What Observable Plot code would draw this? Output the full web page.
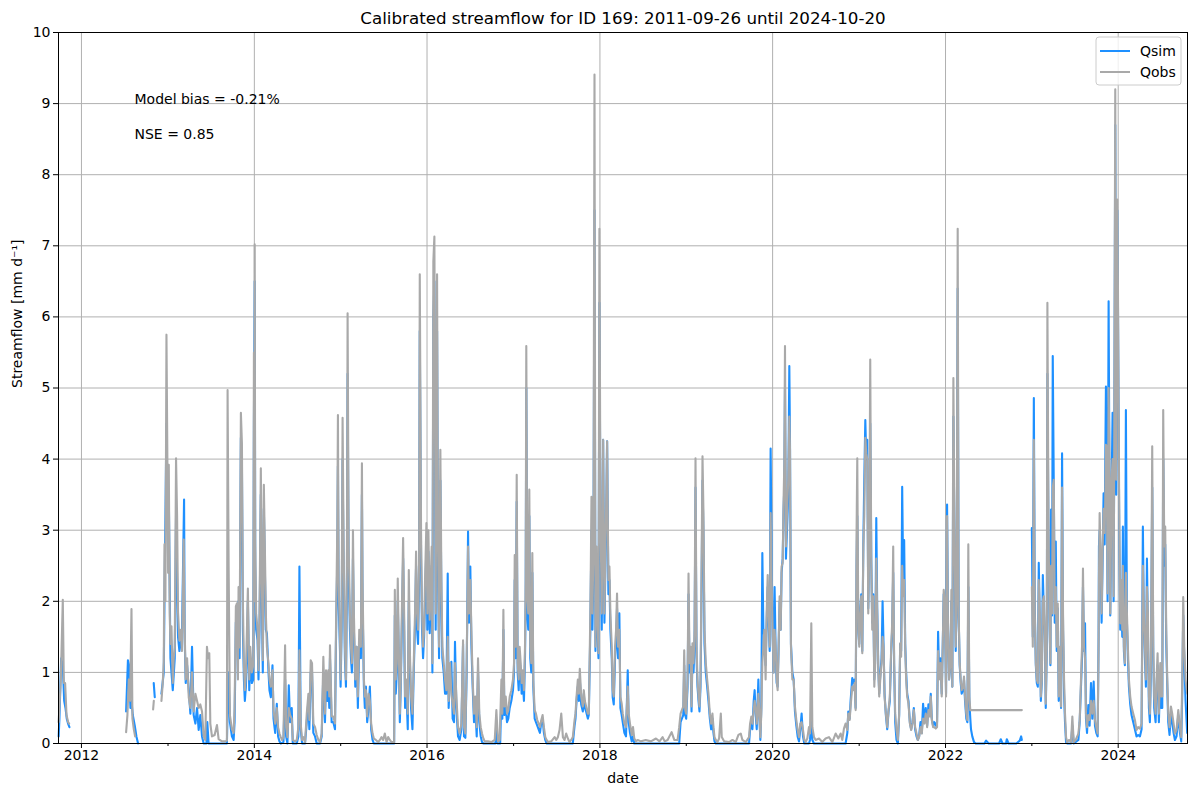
<!DOCTYPE html>
<html>
<head>
<meta charset="utf-8">
<script src="https://cdn.jsdelivr.net/npm/d3@7"></script>
<script src="https://cdn.jsdelivr.net/npm/@observablehq/plot@0.6"></script>
<style>
  body { margin: 0; background: #fff; }
  #chart svg { display: block; }
</style>
</head>
<body>
<div id="chart"></div>
<script>
// Daily streamflow, ID 169, sampled as [decimal year, mm/d]; null marks a gap in the record.
const qobsPoints = [
  [2011.736,0.3],[2011.761,0.9],[2011.784,2.02],[2011.796,0.85],[2011.811,0.85],[2011.827,0.4],[2011.846,0.3],[2011.857,0.28],[2011.86,null],
  [2012.516,0.16],[2012.531,0.4],[2012.547,0.9],[2012.562,0.6],[2012.578,1.89],[2012.589,0.35],[2012.605,0.2],[2012.62,0.1],[2012.63,null],
  [2012.828,0.48],[2012.836,0.6],[2012.84,null],
  [2012.924,0.6],[2012.939,0.85],[2012.951,1.15],[2012.959,2.8],[2012.970,2.0],[2012.982,5.75],[2012.993,3.9],[2013.001,2.4],[2013.009,3.92],[2013.020,1.8],
  [2013.028,1.4],[2013.040,1.65],[2013.055,0.85],[2013.066,1.2],[2013.078,1.35],[2013.093,4.01],[2013.105,3.2],[2013.116,1.85],[2013.132,1.45],[2013.147,1.6],
  [2013.162,1.3],[2013.182,2.87],[2013.193,1.6],[2013.205,0.9],[2013.221,1.2],[2013.240,0.65],[2013.259,0.5],[2013.278,1.0],[2013.297,0.45],[2013.317,0.7],
  [2013.336,0.6],[2013.355,0.5],[2013.374,0.55],[2013.394,0.45],[2013.413,0.1],[2013.432,0.05],[2013.451,1.36],[2013.463,1.2],[2013.478,1.27],[2013.490,0.28],
  [2013.509,0.1],[2013.540,0.12],[2013.567,0.26],[2013.586,0.06],[2013.625,0.03],[2013.663,0.03],[2013.682,0.04],[2013.690,4.97],[2013.702,2.5],[2013.717,0.4],
  [2013.740,0.2],[2013.760,0.15],[2013.771,0.5],[2013.786,1.93],[2013.798,1.97],[2013.810,0.9],[2013.817,2.2],[2013.829,1.35],[2013.844,4.65],[2013.856,4.22],
  [2013.867,2.0],[2013.879,1.1],[2013.890,0.75],[2013.902,0.98],[2013.914,1.6],[2013.925,2.18],[2013.941,0.9],[2013.952,1.36],[2013.971,1.0],[2013.987,1.1],
  [2013.995,5.5],[2013.999,2.0],[2014.004,7.02],[2014.010,2.86],[2014.021,1.83],[2014.037,1.6],[2014.048,1.03],[2014.060,1.83],[2014.075,3.87],[2014.087,2.3],
  [2014.098,1.17],[2014.110,3.64],[2014.121,2.82],[2014.133,1.83],[2014.145,1.36],[2014.164,1.12],[2014.175,0.9],[2014.191,0.8],[2014.210,1.03],[2014.222,0.47],
  [2014.241,0.28],[2014.260,0.5],[2014.275,0.23],[2014.291,0.14],[2014.306,0.09],[2014.322,0.05],[2014.337,0.09],[2014.356,1.38],[2014.368,0.23],[2014.383,0.09],
  [2014.399,0.5],[2014.414,0.4],[2014.433,0.35],[2014.445,0.05],[2014.472,0.03],[2014.491,0.05],[2014.510,0.23],[2014.522,1.31],[2014.537,0.28],[2014.553,0.05],
  [2014.568,0.09],[2014.587,0.02],[2014.607,0.42],[2014.626,0.7],[2014.637,0.33],[2014.653,1.17],[2014.668,1.13],[2014.683,0.28],[2014.703,0.23],[2014.722,0.12],
  [2014.741,0.05],[2014.761,0.02],[2014.780,0.14],[2014.799,1.22],[2014.818,0.42],[2014.830,1.03],[2014.845,0.75],[2014.857,1.03],[2014.868,0.66],[2014.876,1.38],
  [2014.895,0.38],[2014.915,0.38],[2014.934,0.28],[2014.945,1.55],[2014.961,3.07],[2014.968,4.62],[2014.976,2.3],[2014.992,1.46],[2014.999,0.9],[2015.011,1.83],
  [2015.022,4.58],[2015.034,2.77],[2015.049,1.36],[2015.061,0.9],[2015.072,2.44],[2015.080,6.05],[2015.092,2.77],[2015.107,1.83],[2015.119,1.36],[2015.130,1.13],
  [2015.142,3.0],[2015.153,1.83],[2015.169,0.9],[2015.184,1.36],[2015.199,0.66],[2015.215,1.6],[2015.234,1.36],[2015.246,3.94],[2015.253,2.3],[2015.269,0.9],
  [2015.280,0.66],[2015.292,0.75],[2015.307,0.38],[2015.323,0.7],[2015.338,0.6],[2015.353,0.28],[2015.369,0.14],[2015.384,0.07],[2015.407,0.05],[2015.434,0.02],
  [2015.454,0.05],[2015.473,0.09],[2015.492,0.05],[2015.511,0.14],[2015.531,0.02],[2015.550,0.09],[2015.569,0.05],[2015.588,0.02],[2015.619,0.02],[2015.627,2.16],
  [2015.638,0.9],[2015.650,1.13],[2015.661,2.32],[2015.673,1.36],[2015.685,0.42],[2015.696,0.9],[2015.708,1.83],[2015.723,2.89],[2015.735,1.83],[2015.746,0.66],
  [2015.762,0.9],[2015.777,0.42],[2015.789,2.44],[2015.800,1.36],[2015.815,0.66],[2015.831,0.42],[2015.846,1.13],[2015.862,1.88],[2015.873,2.7],[2015.885,1.83],
  [2015.896,1.6],[2015.908,2.54],[2015.916,6.6],[2015.931,2.95],[2015.942,1.83],[2015.954,1.36],[2015.966,1.6],[2015.977,2.3],[2015.993,3.1],[2016.004,1.83],
  [2016.016,3.0],[2016.031,1.74],[2016.043,2.3],[2016.054,2.77],[2016.062,1.13],[2016.073,6.78],[2016.085,7.13],[2016.100,1.83],[2016.116,6.6],[2016.127,2.77],
  [2016.139,1.36],[2016.154,4.13],[2016.166,2.3],[2016.177,1.36],[2016.193,1.13],[2016.208,0.9],[2016.223,0.75],[2016.239,1.5],[2016.250,0.6],[2016.266,1.13],
  [2016.281,0.7],[2016.296,0.56],[2016.312,0.42],[2016.323,1.13],[2016.339,0.66],[2016.358,0.23],[2016.377,0.14],[2016.397,0.28],[2016.416,1.45],[2016.427,0.23],
  [2016.443,0.14],[2016.458,1.13],[2016.474,2.77],[2016.485,1.83],[2016.500,2.3],[2016.512,1.6],[2016.527,0.9],[2016.543,0.42],[2016.558,0.66],[2016.574,0.23],
  [2016.589,1.2],[2016.604,0.42],[2016.620,0.23],[2016.635,0.14],[2016.651,0.07],[2016.666,0.03],[2016.705,0.03],[2016.743,0.02],[2016.782,0.05],[2016.801,0.47],
  [2016.820,0.03],[2016.839,0.05],[2016.859,0.9],[2016.870,0.42],[2016.882,1.88],[2016.893,0.52],[2016.909,0.66],[2016.924,0.42],[2016.939,0.47],[2016.955,0.66],
  [2016.974,0.75],[2016.993,0.9],[2017.005,1.13],[2017.013,2.65],[2017.024,1.36],[2017.036,3.78],[2017.047,1.13],[2017.059,0.9],[2017.070,1.36],[2017.082,1.13],
  [2017.093,0.85],[2017.105,1.03],[2017.120,0.75],[2017.132,1.36],[2017.140,2.3],[2017.147,5.59],[2017.159,2.07],[2017.170,1.83],[2017.182,3.57],[2017.193,1.36],
  [2017.205,1.13],[2017.217,2.68],[2017.228,0.9],[2017.244,0.47],[2017.259,0.42],[2017.274,0.33],[2017.290,0.28],[2017.305,0.23],[2017.321,0.33],[2017.336,0.4],
  [2017.351,0.23],[2017.367,0.09],[2017.382,0.05],[2017.398,0.02],[2017.436,0.03],[2017.475,0.09],[2017.494,0.05],[2017.513,0.09],[2017.532,0.19],[2017.552,0.42],
  [2017.571,0.09],[2017.590,0.05],[2017.609,0.14],[2017.629,0.07],[2017.648,0.02],[2017.667,0.05],[2017.686,0.09],[2017.706,0.33],[2017.717,0.42],[2017.729,0.66],
  [2017.744,0.9],[2017.756,0.7],[2017.767,1.05],[2017.783,0.66],[2017.802,0.52],[2017.813,0.75],[2017.825,0.6],[2017.840,0.52],[2017.860,0.42],[2017.871,0.42],
  [2017.883,1.36],[2017.890,1.93],[2017.902,3.47],[2017.913,1.83],[2017.925,2.77],[2017.937,9.41],[2017.948,1.36],[2017.960,2.77],[2017.971,1.83],[2017.983,1.27],
  [2017.994,7.24],[2018.006,3.24],[2018.021,1.83],[2018.037,4.27],[2018.052,1.83],[2018.071,3.24],[2018.083,4.25],[2018.098,2.3],[2018.110,2.49],[2018.121,1.83],
  [2018.137,1.36],[2018.148,0.75],[2018.160,0.66],[2018.175,1.36],[2018.187,1.6],[2018.198,2.11],[2018.210,1.36],[2018.225,1.6],[2018.237,0.66],[2018.252,0.56],
  [2018.264,0.42],[2018.283,0.28],[2018.302,0.23],[2018.322,0.8],[2018.333,0.42],[2018.348,0.28],[2018.368,0.12],[2018.383,0.23],[2018.398,0.07],[2018.418,0.03],
  [2018.437,0.05],[2018.476,0.03],[2018.530,0.05],[2018.590,0.03],[2018.649,0.07],[2018.690,0.03],[2018.726,0.09],[2018.750,0.03],[2018.784,0.05],[2018.830,0.16],
  [2018.861,0.05],[2018.899,0.05],[2018.918,0.23],[2018.934,0.42],[2018.949,0.47],[2018.965,0.52],[2018.976,1.31],[2018.988,0.47],[2018.999,0.42],[2019.015,0.9],
  [2019.026,2.39],[2019.038,1.13],[2019.049,1.36],[2019.061,0.52],[2019.072,1.41],[2019.084,1.13],[2019.096,1.6],[2019.107,4.01],[2019.119,1.36],[2019.130,0.9],
  [2019.142,0.66],[2019.153,0.52],[2019.165,0.9],[2019.176,2.3],[2019.188,4.04],[2019.199,3.24],[2019.211,1.6],[2019.226,1.13],[2019.242,0.9],[2019.257,0.7],
  [2019.273,0.42],[2019.288,0.28],[2019.303,0.42],[2019.315,0.23],[2019.327,0.09],[2019.342,0.05],[2019.361,0.02],[2019.380,0.07],[2019.400,0.42],[2019.411,0.09],
  [2019.438,0.03],[2019.496,0.02],[2019.535,0.05],[2019.573,0.02],[2019.604,0.12],[2019.631,0.14],[2019.650,0.05],[2019.689,0.02],[2019.727,0.09],[2019.739,0.28],
  [2019.754,0.38],[2019.766,0.28],[2019.781,0.47],[2019.792,0.6],[2019.804,0.52],[2019.816,0.28],[2019.827,0.42],[2019.835,0.7],[2019.846,0.47],[2019.858,0.09],
  [2019.869,0.42],[2019.881,1.13],[2019.893,1.36],[2019.904,1.6],[2019.919,0.9],[2019.931,1.83],[2019.943,2.37],[2019.954,1.83],[2019.966,1.36],[2019.977,3.24],
  [2019.989,2.3],[2020.000,1.6],[2020.012,1.0],[2020.023,1.6],[2020.035,1.36],[2020.047,0.9],[2020.058,0.75],[2020.070,1.36],[2020.081,2.07],[2020.093,1.6],
  [2020.104,2.49],[2020.116,2.54],[2020.127,3.43],[2020.135,3.94],[2020.143,5.59],[2020.154,2.77],[2020.166,3.24],[2020.181,3.71],[2020.193,4.6],[2020.201,4.13],
  [2020.212,1.36],[2020.228,0.9],[2020.243,0.9],[2020.258,0.52],[2020.274,0.33],[2020.289,0.19],[2020.305,0.09],[2020.320,0.28],[2020.335,0.3],[2020.351,0.19],
  [2020.366,0.05],[2020.381,0.02],[2020.401,0.07],[2020.420,0.23],[2020.432,0.14],[2020.447,1.69],[2020.459,0.23],[2020.478,0.09],[2020.497,0.05],[2020.536,0.07],
  [2020.574,0.02],[2020.612,0.07],[2020.651,0.09],[2020.690,0.02],[2020.728,0.14],[2020.759,0.07],[2020.786,0.14],[2020.805,0.05],[2020.824,0.21],[2020.843,0.28],
  [2020.863,0.19],[2020.874,0.42],[2020.890,0.33],[2020.901,0.52],[2020.920,0.8],[2020.932,0.75],[2020.947,0.85],[2020.959,0.47],[2020.970,2.98],[2020.978,4.01],
  [2020.990,1.6],[2021.001,1.36],[2021.013,1.83],[2021.024,2.07],[2021.036,1.27],[2021.048,2.77],[2021.059,3.2],[2021.071,4.3],[2021.082,4.08],[2021.094,4.0],
  [2021.105,1.83],[2021.117,2.77],[2021.128,5.4],[2021.140,2.54],[2021.151,1.6],[2021.163,2.07],[2021.175,0.8],[2021.186,1.13],[2021.198,2.6],[2021.209,1.83],
  [2021.221,1.03],[2021.232,0.66],[2021.244,0.9],[2021.259,1.13],[2021.271,1.5],[2021.282,1.36],[2021.294,0.66],[2021.309,0.42],[2021.325,0.23],[2021.340,0.47],
  [2021.355,0.66],[2021.371,1.36],[2021.382,1.69],[2021.394,2.77],[2021.405,1.13],[2021.417,0.42],[2021.432,0.19],[2021.448,0.05],[2021.463,0.42],[2021.475,1.41],
  [2021.486,1.22],[2021.498,2.5],[2021.510,2.07],[2021.521,2.3],[2021.533,1.36],[2021.544,0.9],[2021.556,0.66],[2021.571,0.56],[2021.587,0.28],[2021.602,0.19],
  [2021.617,0.28],[2021.633,0.47],[2021.648,0.23],[2021.664,0.14],[2021.679,0.05],[2021.694,0.09],[2021.710,0.23],[2021.725,0.14],[2021.740,0.35],[2021.756,0.28],
  [2021.771,0.42],[2021.787,0.23],[2021.802,0.47],[2021.818,0.38],[2021.829,0.66],[2021.841,0.33],[2021.856,0.23],[2021.871,0.23],[2021.887,0.21],[2021.902,0.23],
  [2021.914,1.3],[2021.925,0.9],[2021.941,1.13],[2021.956,0.66],[2021.968,1.36],[2021.979,2.16],[2021.991,2.02],[2022.006,0.66],[2022.018,3.2],[2022.029,1.6],
  [2022.041,0.9],[2022.056,1.13],[2022.068,2.16],[2022.079,0.8],[2022.091,5.14],[2022.102,3.24],[2022.118,1.36],[2022.129,2.07],[2022.141,7.24],[2022.152,1.83],
  [2022.164,1.13],[2022.176,0.9],[2022.187,0.75],[2022.203,0.8],[2022.214,0.94],[2022.226,0.66],[2022.241,0.42],[2022.253,0.33],[2022.264,2.8],[2022.276,0.66],
  [2022.287,0.47],[2022.295,0.47],[2022.884,0.47],[2022.89,null],
  [2023.000,2.2],[2023.011,1.36],[2023.023,4.27],[2023.034,1.83],[2023.046,1.13],[2023.057,0.9],[2023.069,0.85],[2023.080,2.3],[2023.092,1.83],[2023.104,0.66],
  [2023.115,0.9],[2023.127,2.0],[2023.138,2.07],[2023.150,1.6],[2023.161,0.56],[2023.173,1.36],[2023.180,6.2],[2023.192,3.24],[2023.204,1.83],[2023.215,1.13],
  [2023.223,2.5],[2023.234,1.83],[2023.242,3.6],[2023.254,3.71],[2023.265,1.83],[2023.277,2.2],[2023.288,1.36],[2023.300,1.97],[2023.311,0.66],[2023.323,1.36],
  [2023.338,0.52],[2023.350,3.6],[2023.361,1.83],[2023.373,0.9],[2023.384,0.42],[2023.396,0.09],[2023.408,0.02],[2023.431,0.05],[2023.454,0.02],[2023.469,0.38],
  [2023.485,0.02],[2023.508,0.05],[2023.539,0.14],[2023.554,0.33],[2023.569,0.9],[2023.581,1.36],[2023.592,2.46],[2023.604,1.36],[2023.616,1.2],[2023.627,0.42],
  [2023.639,0.23],[2023.654,0.4],[2023.669,0.33],[2023.685,0.6],[2023.700,0.42],[2023.716,0.6],[2023.731,0.33],[2023.746,0.23],[2023.762,0.14],[2023.773,1.36],
  [2023.777,2.3],[2023.785,3.24],[2023.796,2.68],[2023.808,1.83],[2023.820,2.77],[2023.831,3.3],[2023.843,2.96],[2023.850,3.4],[2023.858,4.2],[2023.866,4.18],
  [2023.877,2.11],[2023.889,5.0],[2023.897,4.27],[2023.908,1.83],[2023.916,2.77],[2023.923,3.71],[2023.935,4.0],[2023.947,2.07],[2023.954,4.18],[2023.966,9.2],
  [2023.977,3.71],[2023.989,7.65],[2023.997,6.45],[2024.012,3.24],[2024.024,1.69],[2024.035,2.3],[2024.047,1.6],[2024.054,2.5],[2024.066,1.36],[2024.077,1.13],
  [2024.089,2.4],[2024.101,1.83],[2024.112,1.36],[2024.124,0.9],[2024.139,0.66],[2024.154,0.52],[2024.174,0.42],[2024.193,0.33],[2024.212,0.19],[2024.231,0.23],
  [2024.251,0.21],[2024.270,0.28],[2024.285,2.5],[2024.297,1.83],[2024.309,1.36],[2024.320,0.9],[2024.332,2.2],[2024.343,1.83],[2024.355,0.66],[2024.366,0.42],
  [2024.378,1.13],[2024.393,4.18],[2024.405,1.36],[2024.416,0.66],[2024.432,0.42],[2024.443,0.9],[2024.455,1.27],[2024.470,0.42],[2024.486,1.13],[2024.497,0.66],
  [2024.509,0.66],[2024.520,4.69],[2024.532,2.77],[2024.543,3.05],[2024.555,1.6],[2024.567,0.9],[2024.578,0.42],[2024.593,0.23],[2024.609,0.52],[2024.624,0.42],
  [2024.640,0.28],[2024.655,0.14],[2024.674,0.19],[2024.694,0.47],[2024.713,0.23],[2024.728,0.09],[2024.740,0.9],[2024.751,2.06],[2024.763,1.36],[2024.778,0.9],
  [2024.797,0.7]
];

const qsimPoints = [
  [2011.736,0.1],[2011.745,0.35],[2011.765,1.2],[2011.784,1.1],[2011.800,0.6],[2011.815,0.5],[2011.830,0.35],[2011.845,0.28],[2011.861,0.23],[2011.865,null],
  [2012.516,0.45],[2012.537,1.17],[2012.550,1.1],[2012.566,0.5],[2012.578,0.6],[2012.593,0.4],[2012.616,0.25],[2012.635,0.1],[2012.654,0.0],[2012.66,null],
  [2012.835,0.85],[2012.847,0.65],[2012.85,null],
  [2012.924,0.7],[2012.951,1.0],[2012.959,2.0],[2012.982,4.5],[2012.993,3.0],[2013.009,3.5],[2013.028,1.2],[2013.055,0.75],[2013.078,1.2],[2013.093,3.2],
  [2013.116,1.5],[2013.132,1.3],[2013.162,1.55],[2013.186,3.43],[2013.193,1.5],[2013.205,0.85],[2013.221,1.1],[2013.259,0.42],[2013.278,1.36],[2013.297,0.4],
  [2013.317,0.28],[2013.336,0.5],[2013.355,0.19],[2013.374,0.4],[2013.394,0.1],[2013.413,0.0],[2013.445,0.0],[2013.455,0.3],[2013.470,0.0],[2013.682,0.0],
  [2013.700,1.0],[2013.717,0.3],[2013.740,0.1],[2013.760,0.05],[2013.771,0.3],[2013.786,1.7],[2013.798,1.8],[2013.817,2.0],[2013.829,1.2],[2013.844,4.3],
  [2013.856,3.9],[2013.867,1.6],[2013.879,0.9],[2013.890,0.6],[2013.902,0.8],[2013.914,1.2],[2013.925,2.0],[2013.941,0.75],[2013.952,1.2],[2013.971,0.85],
  [2013.987,0.9],[2013.995,4.5],[2014.004,6.5],[2014.010,2.5],[2014.021,1.6],[2014.037,1.45],[2014.048,0.9],[2014.060,1.6],[2014.075,3.5],[2014.087,2.0],
  [2014.098,1.0],[2014.110,3.3],[2014.121,2.5],[2014.133,1.6],[2014.145,1.55],[2014.164,1.0],[2014.175,0.75],[2014.191,0.65],[2014.210,1.1],[2014.222,0.35],
  [2014.241,0.15],[2014.260,0.56],[2014.275,0.1],[2014.291,0.03],[2014.306,0.0],[2014.337,0.02],[2014.356,0.9],[2014.368,0.1],[2014.383,0.0],[2014.399,0.82],
  [2014.414,0.3],[2014.433,0.5],[2014.445,0.0],[2014.491,0.0],[2014.510,0.1],[2014.522,2.49],[2014.537,0.2],[2014.553,0.0],[2014.587,0.0],[2014.607,0.3],
  [2014.626,0.6],[2014.637,0.2],[2014.653,1.0],[2014.668,1.0],[2014.683,0.15],[2014.703,0.1],[2014.722,0.0],[2014.761,0.0],[2014.780,0.1],[2014.799,1.0],
  [2014.818,0.3],[2014.830,0.9],[2014.845,0.6],[2014.857,0.9],[2014.868,0.5],[2014.876,1.2],[2014.895,0.3],[2014.915,0.3],[2014.934,0.2],[2014.945,1.4],
  [2014.961,2.6],[2014.968,3.9],[2014.976,2.0],[2014.992,1.3],[2014.999,0.8],[2015.011,1.6],[2015.022,4.0],[2015.034,2.4],[2015.049,1.2],[2015.061,0.8],
  [2015.072,2.1],[2015.080,5.2],[2015.092,2.4],[2015.107,1.6],[2015.119,1.2],[2015.130,1.0],[2015.142,2.6],[2015.153,1.6],[2015.169,0.8],[2015.184,1.36],
  [2015.199,0.5],[2015.215,1.4],[2015.234,1.2],[2015.246,3.5],[2015.253,2.0],[2015.269,0.8],[2015.280,0.5],[2015.292,0.8],[2015.307,0.3],[2015.323,0.5],
  [2015.338,0.8],[2015.353,0.2],[2015.369,0.05],[2015.384,0.0],[2015.619,0.0],[2015.627,1.8],[2015.638,0.7],[2015.650,1.0],[2015.661,2.0],[2015.673,1.2],
  [2015.685,0.3],[2015.696,0.8],[2015.708,1.6],[2015.723,2.6],[2015.735,1.6],[2015.746,0.5],[2015.762,0.7],[2015.777,0.2],[2015.789,2.0],[2015.800,1.2],
  [2015.815,0.5],[2015.831,0.2],[2015.846,1.0],[2015.862,1.7],[2015.873,2.5],[2015.885,1.6],[2015.896,1.4],[2015.908,2.3],[2015.916,5.8],[2015.931,2.6],
  [2015.942,1.6],[2015.954,1.2],[2015.966,1.5],[2015.977,2.0],[2015.993,2.8],[2016.004,1.6],[2016.016,2.7],[2016.031,1.55],[2016.043,2.0],[2016.054,2.5],
  [2016.062,1.0],[2016.073,6.0],[2016.085,6.5],[2016.100,1.6],[2016.116,5.8],[2016.127,2.4],[2016.139,1.2],[2016.154,3.7],[2016.166,2.0],[2016.177,1.2],
  [2016.193,1.0],[2016.208,0.7],[2016.224,0.7],[2016.239,2.39],[2016.250,0.5],[2016.266,1.0],[2016.281,1.15],[2016.296,0.35],[2016.312,0.3],[2016.323,1.43],
  [2016.339,0.5],[2016.358,0.1],[2016.377,0.05],[2016.397,0.2],[2016.416,1.4],[2016.427,0.1],[2016.443,0.08],[2016.458,1.0],[2016.474,2.98],[2016.485,1.7],
  [2016.500,2.49],[2016.512,1.4],[2016.527,0.8],[2016.543,0.3],[2016.558,0.5],[2016.574,0.1],[2016.589,1.0],[2016.604,0.3],[2016.620,0.1],[2016.635,0.02],
  [2016.651,0.0],[2016.790,0.0],[2016.801,0.2],[2016.815,0.0],[2016.845,0.0],[2016.859,0.7],[2016.870,0.35],[2016.882,1.6],[2016.893,0.4],[2016.909,0.5],
  [2016.924,0.3],[2016.939,0.35],[2016.955,0.5],[2016.974,0.6],[2016.993,0.75],[2017.005,1.0],[2017.013,2.3],[2017.024,1.2],[2017.036,3.4],[2017.047,1.0],
  [2017.059,0.75],[2017.070,1.2],[2017.082,1.0],[2017.093,0.7],[2017.105,0.9],[2017.120,0.6],[2017.132,1.2],[2017.140,2.0],[2017.147,5.0],[2017.159,1.8],
  [2017.170,1.6],[2017.182,3.2],[2017.193,1.2],[2017.205,1.0],[2017.217,2.4],[2017.228,0.8],[2017.244,0.35],[2017.259,0.3],[2017.274,0.25],[2017.290,0.2],
  [2017.305,0.15],[2017.321,0.3],[2017.336,0.35],[2017.351,0.15],[2017.367,0.05],[2017.382,0.0],[2017.686,0.0],[2017.706,0.25],[2017.717,0.35],[2017.729,0.6],
  [2017.744,0.8],[2017.756,0.6],[2017.767,0.9],[2017.783,0.55],[2017.802,0.45],[2017.813,0.7],[2017.825,0.5],[2017.840,0.45],[2017.860,0.35],[2017.871,0.4],
  [2017.883,1.2],[2017.890,1.7],[2017.902,3.0],[2017.913,1.6],[2017.925,2.5],[2017.937,7.5],[2017.948,1.3],[2017.960,2.5],[2017.971,1.6],[2017.983,1.2],
  [2017.994,6.2],[2018.006,3.0],[2018.021,1.6],[2018.037,4.27],[2018.052,1.7],[2018.071,3.0],[2018.083,4.25],[2018.098,2.1],[2018.110,2.3],[2018.121,1.6],
  [2018.137,1.2],[2018.148,0.65],[2018.160,0.55],[2018.175,1.2],[2018.187,1.4],[2018.198,1.9],[2018.210,1.2],[2018.225,1.83],[2018.237,0.5],[2018.252,0.4],
  [2018.264,0.3],[2018.283,0.15],[2018.302,0.1],[2018.322,1.03],[2018.333,0.3],[2018.348,0.15],[2018.368,0.03],[2018.383,0.1],[2018.398,0.0],[2018.918,0.0],
  [2018.934,0.3],[2018.949,0.35],[2018.965,0.4],[2018.976,1.1],[2018.988,0.4],[2018.999,0.35],[2019.015,0.8],[2019.026,2.1],[2019.038,1.0],[2019.049,1.2],
  [2019.061,0.45],[2019.072,1.3],[2019.084,1.0],[2019.096,1.4],[2019.107,3.6],[2019.119,1.2],[2019.130,0.8],[2019.142,0.6],[2019.153,0.45],[2019.165,0.8],
  [2019.176,2.0],[2019.188,3.7],[2019.199,2.9],[2019.211,1.4],[2019.226,1.0],[2019.242,0.8],[2019.257,0.6],[2019.273,0.35],[2019.288,0.2],[2019.303,0.35],
  [2019.315,0.15],[2019.327,0.03],[2019.342,0.0],[2019.727,0.0],[2019.739,0.2],[2019.754,0.3],[2019.766,0.2],[2019.781,0.6],[2019.792,0.75],[2019.804,0.4],
  [2019.816,0.2],[2019.827,0.6],[2019.835,0.9],[2019.846,0.4],[2019.858,0.05],[2019.869,0.5],[2019.881,2.68],[2019.893,1.6],[2019.904,1.5],[2019.919,1.1],
  [2019.931,1.7],[2019.943,2.2],[2019.954,1.7],[2019.966,1.3],[2019.977,4.15],[2019.989,2.6],[2020.000,1.5],[2020.012,1.0],[2020.023,2.2],[2020.035,1.3],
  [2020.047,0.85],[2020.058,0.8],[2020.070,1.4],[2020.081,2.0],[2020.093,1.6],[2020.104,2.4],[2020.116,2.6],[2020.127,3.3],[2020.135,3.6],[2020.143,5.0],
  [2020.154,2.6],[2020.166,3.0],[2020.181,3.5],[2020.193,5.31],[2020.201,4.2],[2020.212,1.4],[2020.228,1.0],[2020.243,0.9],[2020.258,0.45],[2020.274,0.25],
  [2020.289,0.1],[2020.305,0.03],[2020.320,0.2],[2020.335,0.42],[2020.351,0.1],[2020.366,0.0],[2020.420,0.0],[2020.432,0.05],[2020.447,0.3],[2020.459,0.05],
  [2020.478,0.0],[2020.843,0.0],[2020.863,0.15],[2020.874,0.45],[2020.890,0.35],[2020.901,0.6],[2020.920,0.92],[2020.932,0.85],[2020.947,0.9],[2020.959,0.5],
  [2020.970,2.5],[2020.978,3.2],[2020.990,1.6],[2021.001,1.4],[2021.013,1.9],[2021.024,2.1],[2021.036,1.3],[2021.048,2.8],[2021.059,3.7],[2021.071,4.55],
  [2021.082,4.0],[2021.094,4.27],[2021.105,1.9],[2021.117,2.7],[2021.128,4.5],[2021.140,2.6],[2021.151,1.7],[2021.163,2.1],[2021.175,0.9],[2021.186,1.2],
  [2021.198,3.17],[2021.209,1.9],[2021.221,1.1],[2021.232,0.7],[2021.244,0.95],[2021.259,1.2],[2021.271,2.0],[2021.282,1.4],[2021.294,0.7],[2021.309,0.4],
  [2021.325,0.2],[2021.340,0.45],[2021.355,0.6],[2021.371,1.3],[2021.382,1.6],[2021.394,2.4],[2021.405,1.1],[2021.417,0.3],[2021.432,0.05],[2021.448,0.0],
  [2021.463,0.4],[2021.475,1.4],[2021.486,1.3],[2021.498,3.61],[2021.510,2.3],[2021.521,2.86],[2021.533,1.4],[2021.544,1.0],[2021.556,0.7],[2021.571,0.6],
  [2021.587,0.3],[2021.602,0.2],[2021.617,0.3],[2021.633,0.5],[2021.648,0.2],[2021.664,0.1],[2021.679,0.05],[2021.694,0.1],[2021.710,0.3],[2021.725,0.15],
  [2021.740,0.56],[2021.756,0.3],[2021.771,0.5],[2021.787,0.25],[2021.802,0.55],[2021.818,0.4],[2021.829,0.7],[2021.841,0.35],[2021.856,0.25],[2021.871,0.3],
  [2021.887,0.25],[2021.902,0.3],[2021.914,1.57],[2021.925,1.0],[2021.941,1.2],[2021.956,0.7],[2021.968,1.4],[2021.979,2.1],[2021.991,2.0],[2022.006,0.7],
  [2022.018,3.36],[2022.029,1.6],[2022.041,0.9],[2022.056,1.1],[2022.068,2.0],[2022.079,0.8],[2022.091,4.6],[2022.102,3.0],[2022.118,1.3],[2022.129,2.0],
  [2022.141,6.4],[2022.152,1.8],[2022.164,1.1],[2022.176,0.85],[2022.187,0.7],[2022.203,0.75],[2022.214,0.9],[2022.226,0.6],[2022.241,0.35],[2022.253,0.3],
  [2022.264,2.2],[2022.276,0.6],[2022.287,0.35],[2022.295,0.2],[2022.310,0.1],[2022.330,0.02],[2022.350,0.0],[2022.450,0.0],[2022.470,0.04],[2022.500,0.0],
  [2022.620,0.0],[2022.640,0.06],[2022.660,0.0],[2022.700,0.0],[2022.710,0.06],[2022.730,0.0],[2022.820,0.0],[2022.860,0.04],[2022.876,0.1],[2022.884,0.05],[2022.89,null],
  [2023.000,3.03],[2023.011,1.5],[2023.023,4.86],[2023.034,1.9],[2023.046,1.1],[2023.057,0.85],[2023.069,0.8],[2023.080,2.54],[2023.092,1.7],[2023.104,0.6],
  [2023.115,0.85],[2023.127,2.37],[2023.138,1.9],[2023.150,1.5],[2023.161,0.5],[2023.173,1.3],[2023.180,5.2],[2023.192,3.0],[2023.204,1.7],[2023.215,1.1],
  [2023.223,3.29],[2023.234,1.8],[2023.242,5.45],[2023.254,3.6],[2023.265,1.7],[2023.277,2.84],[2023.288,1.3],[2023.300,1.9],[2023.311,0.6],[2023.323,1.3],
  [2023.338,0.5],[2023.350,4.08],[2023.361,1.6],[2023.373,0.7],[2023.384,0.3],[2023.396,0.02],[2023.408,0.0],[2023.454,0.0],[2023.469,0.25],[2023.485,0.0],
  [2023.539,0.05],[2023.554,0.3],[2023.569,0.8],[2023.581,1.2],[2023.592,2.2],[2023.604,1.3],[2023.616,1.69],[2023.627,0.35],[2023.639,0.15],[2023.654,0.54],
  [2023.669,0.25],[2023.685,0.85],[2023.700,0.35],[2023.716,0.87],[2023.731,0.25],[2023.746,0.15],[2023.762,0.1],[2023.773,1.5],[2023.777,2.77],[2023.785,3.0],
  [2023.796,2.5],[2023.808,1.7],[2023.820,2.6],[2023.831,3.52],[2023.843,2.8],[2023.850,3.9],[2023.858,5.02],[2023.866,4.0],[2023.877,2.0],[2023.889,6.22],
  [2023.897,4.1],[2023.908,1.8],[2023.916,2.6],[2023.923,3.5],[2023.935,4.65],[2023.947,2.0],[2023.954,4.0],[2023.966,8.7],[2023.977,3.5],[2023.989,7.5],
  [2023.997,6.2],[2024.012,3.0],[2024.024,1.6],[2024.035,2.2],[2024.047,1.5],[2024.054,3.05],[2024.066,1.3],[2024.077,1.1],[2024.089,4.69],[2024.101,1.7],
  [2024.112,1.2],[2024.124,0.8],[2024.139,0.55],[2024.154,0.4],[2024.174,0.3],[2024.193,0.2],[2024.212,0.1],[2024.231,0.12],[2024.251,0.1],[2024.270,0.2],
  [2024.285,3.05],[2024.297,1.7],[2024.309,1.2],[2024.320,0.8],[2024.332,2.6],[2024.343,1.6],[2024.355,0.5],[2024.366,0.3],[2024.378,1.0],[2024.393,3.6],
  [2024.405,1.2],[2024.416,0.5],[2024.432,0.3],[2024.443,0.8],[2024.455,1.1],[2024.470,0.3],[2024.486,1.0],[2024.497,0.5],[2024.509,0.5],[2024.520,4.0],
  [2024.532,2.5],[2024.543,2.8],[2024.555,1.4],[2024.567,0.8],[2024.578,0.3],[2024.593,0.12],[2024.609,0.4],[2024.624,0.3],[2024.640,0.15],[2024.655,0.05],
  [2024.674,0.1],[2024.694,0.4],[2024.713,0.15],[2024.728,0.03],[2024.740,0.7],[2024.751,1.8],[2024.763,1.2],[2024.778,0.6],[2024.797,0.15]
];

const majorYears = [2012, 2014, 2016, 2018, 2020, 2022, 2024];
const minorYears = [2013, 2015, 2017, 2019, 2021, 2023];
const yTicks = [0, 1, 2, 3, 4, 5, 6, 7, 8, 9, 10];
const periodStart = "2011-09-26";
const periodEnd = "2024-10-20";
const stats = ["Model bias = -0.21%", "NSE = 0.85"];
const seriesNames = ["Qsim", "Qobs"];
const seriesColors = ["#1e90ff", "#a9a9a9"];

// decimal year -> UTC date
function toDate(yr) {
  const y = Math.floor(yr);
  const a = Date.UTC(y, 0, 1), b = Date.UTC(y + 1, 0, 1);
  return new Date(a + (yr - y) * (b - a));
}
const toRows = (pts) => pts.map(([t, q]) => ({date: toDate(t), q}));
const qobs = toRows(qobsPoints);
const qsim = toRows(qsimPoints);
const yearDate = (y) => new Date(Date.UTC(y, 0, 1));

const W = 1188, H = 785;
const font = "DejaVu Sans, Verdana, sans-serif";

const chart = Plot.plot({
  width: W,
  height: H,
  marginLeft: 58,
  marginRight: 1,
  marginTop: 32,
  marginBottom: 42,
  style: {fontFamily: font, fontSize: "14px", color: "black", background: "white"},
  x: {type: "utc", domain: [new Date(periodStart), new Date(periodEnd)]},
  y: {domain: [0, 10]},
  marks: [
    Plot.gridX(majorYears.map(yearDate), {stroke: "#b0b0b0", strokeOpacity: 1, strokeWidth: 1}),
    Plot.gridY(yTicks, {stroke: "#b0b0b0", strokeOpacity: 1, strokeWidth: 1}),
    Plot.line(qsim, {x: "date", y: "q", stroke: seriesColors[0], strokeWidth: 2.1}),
    Plot.line(qobs, {x: "date", y: "q", stroke: seriesColors[1], strokeWidth: 2.1}),
    Plot.frame({stroke: "black", strokeWidth: 1}),
    Plot.axisX(majorYears.map(yearDate), {tickFormat: "%Y", tickSize: 5, tickPadding: 2, label: null, fontSize: 14}),
    Plot.axisX(minorYears.map(yearDate), {tickSize: 3, tickFormat: () => "", label: null}),
    Plot.axisY(yTicks, {tickSize: 5, tickPadding: 3, tickFormat: (d) => String(d), label: null, fontSize: 14}),
    Plot.text([`Calibrated streamflow for ID 169: ${periodStart} until ${periodEnd}`], {frameAnchor: "top", dy: -14, lineAnchor: "middle", fontSize: 16.7}),
    Plot.text(["date"], {frameAnchor: "bottom", dy: 35, lineAnchor: "middle", fontSize: 14}),
    Plot.text(["Streamflow [mm d\u207B\u00B9]"], {frameAnchor: "left", dx: -41, rotate: -90, lineAnchor: "middle", fontSize: 14}),
    Plot.text([stats[0]], {frameAnchor: "top-left", dx: 76, dy: 67, lineAnchor: "middle", textAnchor: "start", fontSize: 14}),
    Plot.text([stats[1]], {frameAnchor: "top-left", dx: 76, dy: 102, lineAnchor: "middle", textAnchor: "start", fontSize: 14})
  ]
});

document.getElementById("chart").appendChild(chart);

// legend box in the upper-right corner of the frame
const svg = d3.select(chart);
const lg = svg.append("g").attr("transform", `translate(${W - 1 - 91},${32 + 5})`);
lg.append("rect").attr("width", 85).attr("height", 48).attr("rx", 3)
  .attr("fill", "white").attr("fill-opacity", 0.8).attr("stroke", "#cccccc");
seriesNames.forEach((name, i) => {
  const yy = 14 + i * 21;
  lg.append("line").attr("x1", 4).attr("x2", 34).attr("y1", yy).attr("y2", yy)
    .attr("stroke", seriesColors[i]).attr("stroke-width", 2);
  lg.append("text").attr("x", 44).attr("y", yy).attr("dy", "0.35em")
    .attr("text-anchor", "start")
    .attr("font-family", font).attr("font-size", 14).attr("fill", "black").text(name);
});
</script>
</body>
</html>
